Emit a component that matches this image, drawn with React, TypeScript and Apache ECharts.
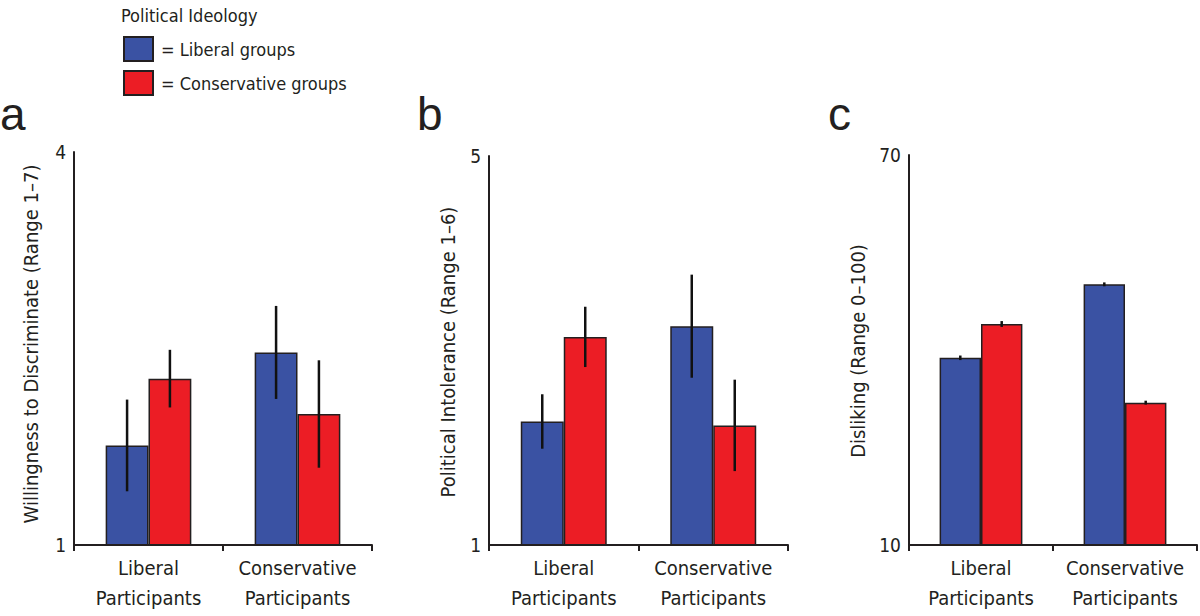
import React, { useEffect, useRef } from "react";
import * as echarts from "echarts";

// ---- data ----
const categories = ["Liberal\nParticipants", "Conservative\nParticipants"];
const groupNames = ["Liberal groups", "Conservative groups"];
const panelLetters = ["a", "b", "c"];
const yAxisTitles = [
  "Willingness to Discriminate (Range 1–7)",
  "Political Intolerance (Range 1–6)",
  "Disliking (Range 0–100)",
];
const yMins = [1, 1, 10];
const yMaxs = [4, 5, 70];
const yIntervals = [1, 1, 10];

// Panel a: willingness to discriminate
const aLiberalGroups = [1.76, 2.47];
const aConservativeGroups = [2.27, 2.0];
const aLiberalErr = [0.35, 0.355];
const aConservativeErr = [0.22, 0.41];

// Panel b: political intolerance
const bLiberalGroups = [2.27, 3.25];
const bConservativeGroups = [3.14, 2.23];
const bLiberalErr = [0.28, 0.53];
const bConservativeErr = [0.31, 0.47];

// Panel c: disliking
const cLiberalGroups = [38.8, 50.1];
const cConservativeGroups = [44.0, 31.9];
const cLiberalErr = [0.35, 0.3];
const cConservativeErr = [0.45, 0.3];

const liberalValues = [aLiberalGroups, bLiberalGroups, cLiberalGroups];
const conservativeValues = [aConservativeGroups, bConservativeGroups, cConservativeGroups];
const liberalErrors = [aLiberalErr, bLiberalErr, cLiberalErr];
const conservativeErrors = [aConservativeErr, bConservativeErr, cConservativeErr];

// ---- styling ----
const BLUE = "#3a52a3";
const RED = "#ec1d25";
const INK = "#231f20";
const FONT = "'Liberation Sans Narrow', 'DejaVu Sans Condensed', 'Roboto Condensed', 'Liberation Sans', sans-serif";
const LETTER_FONT = "'Liberation Sans', Arial, sans-serif";
const GAP_RATIO = 0.425;

const grids = [
  { left: 74, top: 152, width: 298, height: 393 },
  { left: 489, top: 156, width: 299, height: 389 },
  { left: 909, top: 155, width: 288, height: 390 },
];
const titlePos = [
  { x: 31, y: 344 },
  { x: 448, y: 352 },
  { x: 858, y: 351 },
];
const letterPos = [
  { x: 0, y: 114 },
  { x: 417, y: 114 },
  { x: 828, y: 114 },
];

export default function App() {
  const ref = useRef<HTMLDivElement>(null);

  useEffect(() => {
    document.body.style.margin = "0";
    if (!ref.current) return;
    const chart = echarts.init(ref.current, undefined, { renderer: "svg" });

    const xAxes = grids.map((_, i) => ({
      type: "category",
      gridIndex: i,
      data: categories,
      z: 5,
      axisLine: { lineStyle: { color: INK, width: 2 } },
      axisTick: { show: true, length: 6, inside: false, lineStyle: { color: INK, width: 2 } },
      axisLabel: {
        interval: 0,
        color: INK,
        fontSize: 20,
        lineHeight: 30,
        margin: 8,
        fontFamily: FONT,
      },
    }));

    const yAxes = grids.map((_, i) => ({
      type: "value",
      gridIndex: i,
      min: yMins[i],
      max: yMaxs[i],
      interval: yIntervals[i],
      z: 5,
      splitLine: { show: false },
      axisTick: { show: false },
      axisLine: { show: true, lineStyle: { color: INK, width: 2 } },
      axisLabel: {
        color: INK,
        fontSize: 19,
        margin: 8,
        fontFamily: FONT,
        formatter: (v: number) => (v === yMins[i] || v === yMaxs[i] ? String(v) : ""),
      },
    }));

    const series: any[] = [];
    grids.forEach((_, i) => {
      series.push({
        type: "bar",
        name: groupNames[0],
        xAxisIndex: i,
        yAxisIndex: i,
        data: liberalValues[i],
        barGap: "0%",
        barCategoryGap: `${GAP_RATIO * 100}%`,
        itemStyle: { color: BLUE, borderColor: INK, borderWidth: 1.5 },
        emphasis: { disabled: true },
      });
      series.push({
        type: "bar",
        name: groupNames[1],
        xAxisIndex: i,
        yAxisIndex: i,
        data: conservativeValues[i],
        barGap: "0%",
        barCategoryGap: `${GAP_RATIO * 100}%`,
        itemStyle: { color: RED, borderColor: INK, borderWidth: 1.5 },
        emphasis: { disabled: true },
      });
      const errData: number[][] = [];
      categories.forEach((_c, ci) => {
        errData.push([ci, liberalValues[i][ci], liberalErrors[i][ci], 0]);
        errData.push([ci, conservativeValues[i][ci], conservativeErrors[i][ci], 1]);
      });
      series.push({
        type: "custom",
        xAxisIndex: i,
        yAxisIndex: i,
        z: 10,
        data: errData,
        encode: { x: 0, y: 1 },
        renderItem: (_params: any, api: any) => {
          const cat = api.value(0);
          const v = api.value(1);
          const e = api.value(2);
          const g = api.value(3);
          const band = api.size([1, 0])[0];
          const bw = (band * (1 - GAP_RATIO)) / 2;
          const c = api.coord([cat, v]);
          const x = c[0] + (g === 0 ? -bw / 2 : bw / 2);
          const top = api.coord([cat, v + e])[1];
          const bot = api.coord([cat, v - e])[1];
          return {
            type: "line",
            shape: { x1: x, y1: top, x2: x, y2: bot },
            style: { stroke: "#111", lineWidth: 2.5 },
          };
        },
      });
    });

    const graphics: any[] = [];
    grids.forEach((_, i) => {
      graphics.push({
        type: "text",
        x: titlePos[i].x,
        y: titlePos[i].y,
        rotation: Math.PI / 2,
        style: {
          text: yAxisTitles[i],
          fontSize: 20,
          fontFamily: FONT,
          fill: INK,
          align: "center",
          verticalAlign: "middle",
        },
      });
      graphics.push({
        type: "text",
        x: letterPos[i].x,
        y: letterPos[i].y,
        style: {
          text: panelLetters[i],
          fontSize: 46,
          fontFamily: LETTER_FONT,
          fill: INK,
          align: "left",
          verticalAlign: "middle",
        },
      });
    });

    chart.setOption({
      animation: false,
      backgroundColor: "#ffffff",
      title: {
        text: "Political Ideology",
        left: 116,
        top: 1,
        textStyle: { fontSize: 18, fontWeight: "normal", color: INK, fontFamily: FONT },
      },
      legend: {
        data: groupNames,
        orient: "vertical",
        left: 118,
        top: 31,
        itemWidth: 29,
        itemHeight: 24,
        itemGap: 8,
        selectedMode: false,
        icon: "rect",
        formatter: "= {name}",
        textStyle: { fontSize: 18, color: INK, fontFamily: FONT, padding: [0, 0, 0, 3] },
      },
      grid: grids.map((g) => ({ ...g, containLabel: false })),
      xAxis: xAxes,
      yAxis: yAxes,
      series,
      graphic: graphics,
    });

    return () => {
      chart.dispose();
    };
  }, []);

  return <div ref={ref} style={{ width: 1200, height: 616 }} />;
}
